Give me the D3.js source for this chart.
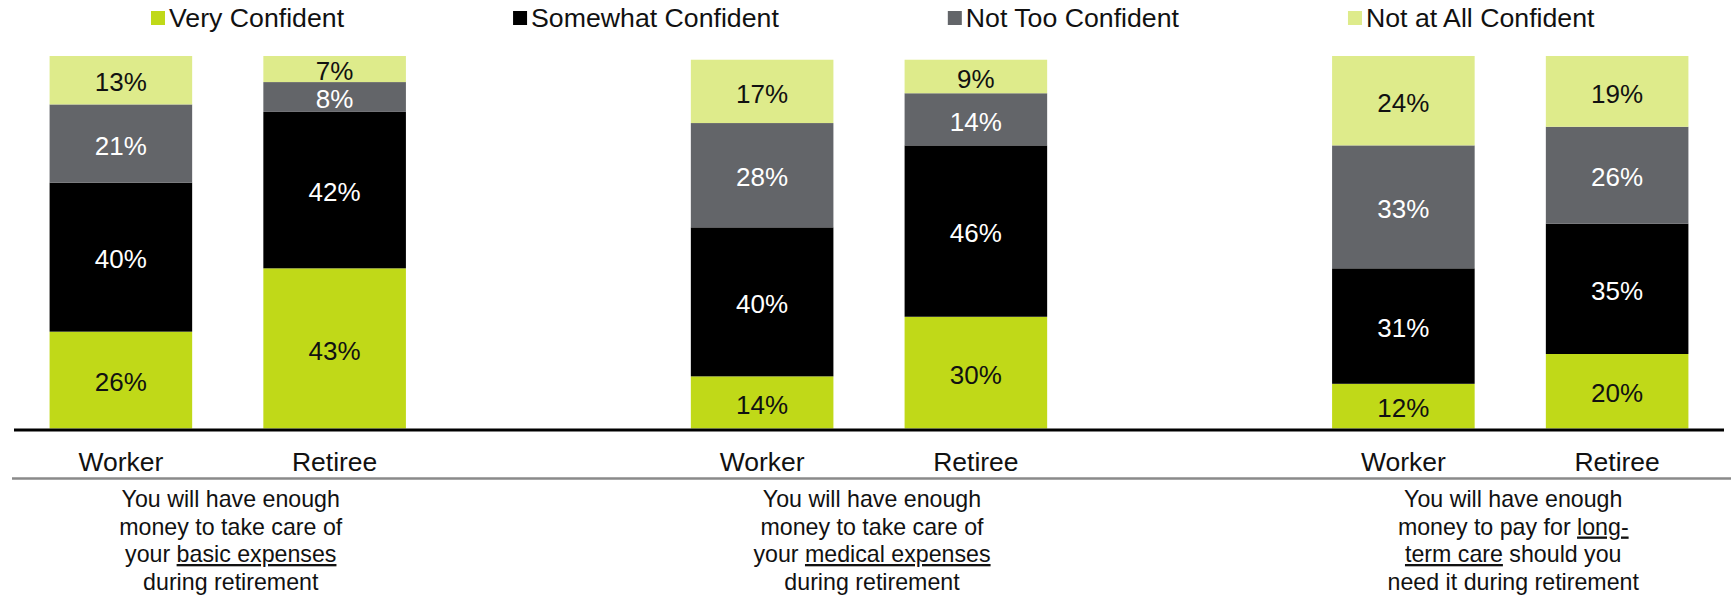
<!DOCTYPE html>
<html>
<head>
<meta charset="utf-8">
<script src="https://cdn.jsdelivr.net/npm/d3@7"></script>
<style>
  html, body { margin: 0; padding: 0; background: #ffffff; }
  svg { display: block; font-family: "Liberation Sans", Arial, sans-serif; }
</style>
</head>
<body>
<svg id="chart" width="1731" height="598"></svg>
<script>
// Respondent groups shown in every panel
const groups = ["Worker", "Retiree"];

// Panels (one per question), in display order
const panels = ["basic", "medical", "longterm"];

// Confidence levels, bottom of the stack first
const levels = ["Very Confident", "Somewhat Confident", "Not Too Confident", "Not at All Confident"];

// Percentages per bar: basic Worker, basic Retiree, medical Worker, medical Retiree, LTC Worker, LTC Retiree
const veryConfident     = [26, 43, 14, 30, 12, 20];
const somewhatConfident = [40, 42, 40, 46, 31, 35];
const notTooConfident   = [21,  8, 28, 14, 33, 26];
const notAtAllConfident = [13,  7, 17,  9, 24, 19];

// Question text under each panel; segments flagged true are underlined
const questionLines = [
  [[["You will have enough", false]], [["money to take care of", false]], [["your ", false], ["basic expenses", true]], [["during retirement", false]]],
  [[["You will have enough", false]], [["money to take care of", false]], [["your ", false], ["medical expenses", true]], [["during retirement", false]]],
  [[["You will have enough", false]], [["money to pay for ", false], ["long-", true]], [["term care", true], [" should you", false]], [["need it during retirement", false]]]
];

const colors = {
  "Very Confident": "#c0d918",
  "Somewhat Confident": "#000000",
  "Not Too Confident": "#636569",
  "Not at All Confident": "#deeb8b"
};
const labelColors = {
  "Very Confident": "#111111",
  "Somewhat Confident": "#ffffff",
  "Not Too Confident": "#ffffff",
  "Not at All Confident": "#111111"
};

const seriesValues = {
  "Very Confident": veryConfident,
  "Somewhat Confident": somewhatConfident,
  "Not Too Confident": notTooConfident,
  "Not at All Confident": notAtAllConfident
};

// One row per bar
const rows = [];
panels.forEach((p, pi) => {
  groups.forEach((g, gi) => {
    const idx = pi * groups.length + gi;
    const row = { key: p + "|" + g, panel: p, group: g };
    levels.forEach(l => { row[l] = seriesValues[l][idx]; });
    rows.push(row);
  });
});

// x slots: each panel's bars followed by an empty spacer slot
const slots = [];
panels.forEach((p, pi) => {
  groups.forEach(g => slots.push(p + "|" + g));
  if (pi < panels.length - 1) slots.push("gap" + pi);
});

const svg = d3.select("#chart");

const x = d3.scaleBand()
  .domain(slots)
  .range([14, 1724])
  .paddingInner(0.333)
  .paddingOuter(0.1665);

const y = d3.scaleLinear().domain([0, 100]).range([428.5, 56]);

const stack = d3.stack().keys(levels);
const stacked = stack(rows);

// Stacked bars
const layer = svg.append("g").selectAll("g")
  .data(stacked)
  .join("g")
  .attr("fill", d => colors[d.key]);

layer.selectAll("rect")
  .data(d => d.map(v => Object.assign({ level: d.key }, v)))
  .join("rect")
  .attr("x", d => x(d.data.key))
  .attr("width", x.bandwidth())
  .attr("y", d => y(d[1]))
  .attr("height", d => y(d[0]) - y(d[1]));

// Segment value labels
const labels = svg.append("g")
  .attr("font-size", 26)
  .attr("text-anchor", "middle");

stacked.forEach(s => {
  labels.selectAll(null)
    .data(s)
    .join("text")
    .attr("x", d => x(d.data.key) + x.bandwidth() / 2)
    .attr("y", d => (y(d[0]) + y(d[1])) / 2)
    .attr("dy", "0.43em")
    .attr("fill", labelColors[s.key])
    .text(d => (d[1] - d[0]) + "%");
});

// Category axis (Worker / Retiree)
const axis = d3.axisBottom(x)
  .tickSize(0)
  .tickPadding(22)
  .tickFormat(k => k.startsWith("gap") ? "" : k.split("|")[1]);

const axisG = svg.append("g")
  .attr("transform", "translate(0,430)")
  .call(axis);
axisG.select(".domain")
  .attr("stroke", "#000")
  .attr("stroke-width", 3)
  .attr("d", "M14,0H1724");
axisG.selectAll(".tick text")
  .attr("font-size", 26.5)
  .attr("font-family", "Liberation Sans, Arial, sans-serif")
  .attr("fill", "#111");

// Separator between group labels and question text
svg.append("line")
  .attr("x1", 12).attr("x2", 1731)
  .attr("y1", 478.5).attr("y2", 478.5)
  .attr("stroke", "#8a8a8a")
  .attr("stroke-width", 2.5);

// Question text centred under each panel
const qG = svg.append("g")
  .attr("font-size", 23.2)
  .attr("fill", "#111")
  .attr("text-anchor", "middle");

panels.forEach((p, pi) => {
  const first = x(p + "|" + groups[0]);
  const last = x(p + "|" + groups[groups.length - 1]) + x.bandwidth();
  const cx = (first + last) / 2 + 3;
  questionLines[pi].forEach((line, li) => {
    const t = qG.append("text")
      .attr("x", cx)
      .attr("y", 507 + li * 27.5);
    line.forEach(([str, under]) => {
      t.append("tspan")
        .attr("text-decoration", under ? "underline" : null)
        .text(str);
    });
  });
});

// Legend across the top
const legend = svg.append("g").attr("font-size", 26.7);
let lx = 151;
levels.forEach(l => {
  const item = legend.append("g").attr("transform", `translate(${lx},0)`);
  item.append("rect")
    .attr("x", 0).attr("y", 11)
    .attr("width", 14).attr("height", 14)
    .attr("fill", colors[l]);
  const t = item.append("text")
    .attr("x", 18).attr("y", 18)
    .attr("dy", "0.35em")
    .attr("fill", "#111")
    .text(l);
  lx += 18 + t.node().getComputedTextLength() + 169;
});
</script>
</body>
</html>
